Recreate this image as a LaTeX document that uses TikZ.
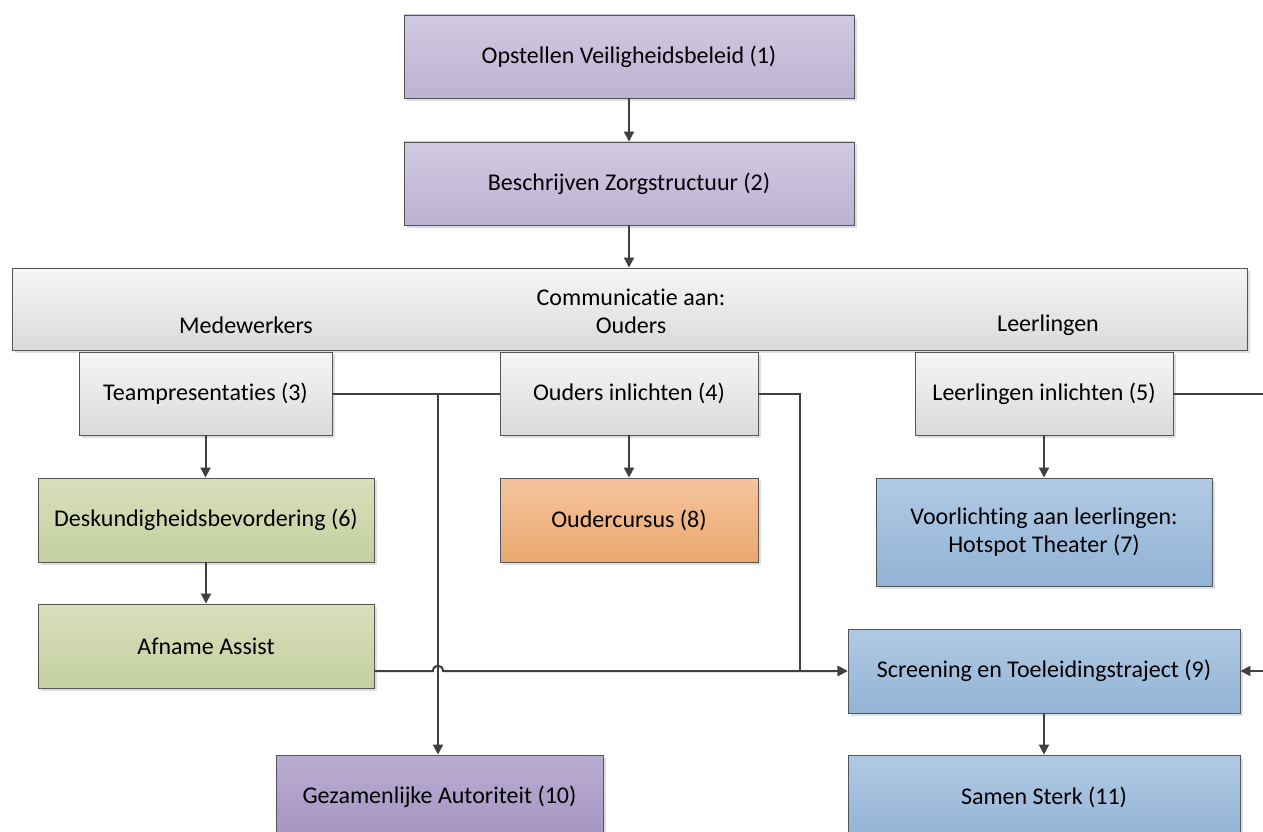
\documentclass[tikz,border=0pt]{standalone}
\usepackage{fontspec}
\setmainfont[Ligatures=NoCommon]{Carlito}
\usetikzlibrary{arrows.meta,shadows,calc}
\definecolor{bordc}{HTML}{555555}
\definecolor{linec}{HTML}{404040}
\tikzset{
  box/.style={draw=bordc, line width=0.9pt, inner sep=0pt, align=center,
    font=\fontsize{24}{28}\selectfont, text=black,
    general shadow={fill=black!13, shadow xshift=3pt, shadow yshift=-3pt}},
  purp/.style={box, top color=purpT, bottom color=purpB},
  purpd/.style={box, top color=purpdT, bottom color=purpdB},
  grayb/.style={box, top color=grayT, bottom color=grayB},
  greenb/.style={box, top color=greenT, bottom color=greenB},
  orangeb/.style={box, top color=orangeT, bottom color=orangeB},
  blueb/.style={box, top color=blueT, bottom color=blueB},
  conn/.style={draw=linec, line width=2pt},
  arr/.style={conn, -{Triangle[width=10pt,length=10pt]}},
  lbl/.style={font=\fontsize{24}{28}\selectfont, inner sep=0pt}
}
\definecolor{purpT}{HTML}{D1C9E1}
\definecolor{purpB}{HTML}{BDB2D3}
\definecolor{purpdT}{HTML}{B9ADD1}
\definecolor{purpdB}{HTML}{A594C3}
\definecolor{grayT}{HTML}{F6F6F6}
\definecolor{grayB}{HTML}{DADADA}
\definecolor{greenT}{HTML}{D8DFBB}
\definecolor{greenB}{HTML}{C4D09E}
\definecolor{orangeT}{HTML}{F5C49D}
\definecolor{orangeB}{HTML}{EBA86F}
\definecolor{blueT}{HTML}{B0CAE4}
\definecolor{blueB}{HTML}{92B3D6}
\begin{document}
\begin{tikzpicture}[x=1pt,y=-1pt]
\useasboundingbox (0,0) rectangle (1263,832);
\clip (0,0) rectangle (1263,832);
\fill[white] (0,0) rectangle (1263,832);

\node[purp, minimum width=450pt, minimum height=83pt] (n1) at (629,56.5) {Opstellen Veiligheidsbeleid (1)};
\node[purp, minimum width=450pt, minimum height=83pt] (n2) at (629,183.5) {Beschrijven Zorgstructuur (2)};
\node[grayb, minimum width=1235pt, minimum height=82pt] (comm) at (629.5,309) {};
\node[lbl] (ca) at (631,297) {Communicatie aan:};
\node[lbl] (co) at (631,325) {Ouders};
\node[lbl] (cm) at (246,325) {Medewerkers};
\node[lbl] (cl) at (1048,325) {Leerlingen};
\node[grayb, minimum width=253pt, minimum height=83pt] (n3) at (205.5,393.5) {Teampresentaties (3)};
\node[grayb, minimum width=258pt, minimum height=83pt] (n4) at (629,393.5) {Ouders inlichten (4)};
\node[grayb, minimum width=258pt, minimum height=83pt] (n5) at (1044,393.5) {Leerlingen inlichten (5)};
\node[greenb, minimum width=336pt, minimum height=84pt] (n6) at (206,520) {Deskundigheidsbevordering (6)};
\node[orangeb, minimum width=258pt, minimum height=84pt] (n8) at (629,520) {Oudercursus (8)};
\node[blueb, minimum width=336pt, minimum height=108pt] (n7) at (1044,532) {Voorlichting aan leerlingen:\\Hotspot Theater (7)};
\node[greenb, minimum width=336pt, minimum height=84pt] (na) at (206,646) {Afname Assist};
\node[blueb, minimum width=392pt, minimum height=84pt] (n9) at (1044,671) {Screening en Toeleidingstraject (9)};
\node[purpd, minimum width=327pt, minimum height=84pt] (n10) at (439.5,797) {Gezamenlijke Autoriteit (10)};
\node[blueb, minimum width=392pt, minimum height=84pt] (n11) at (1044,797) {Samen Sterk (11)};

\coordinate (j1) at (438,393.5);
\coordinate (j2) at (800,393.5);
\coordinate (j3) at (800,671);
\coordinate (h1) at (433,671);
\coordinate (h2) at (443,671);
\coordinate (r1) at (1290,393.5);
\coordinate (r2) at (1290,671);

\draw[arr] (n1) -- (n2);
\draw[arr] (n2.south) -- (n2.south |- comm.north);
\draw[arr] (n3.south) -- (n3.south |- n6.north);
\draw[arr] (n4) -- (n8);
\draw[arr] (n5) -- (n7);
\draw[arr] (n6) -- (na);
\draw[arr] (n9) -- (n11);
\draw[conn] (n4.west) -- (j1);
\draw[arr] (n3.east) -- (j1) -- (j1 |- n10.north);
\draw[arr] (n4.east) -- (j2) -- (j3) -- (n9.west);
\draw[arr] (na.east |- h1) -- (h1) .. controls (433,664) and (443,664) .. (h2) -- (n9.west);
\draw[arr] (n5.east) -- (r1) -- (r2) -- (n9.east);
\end{tikzpicture}
\end{document}
